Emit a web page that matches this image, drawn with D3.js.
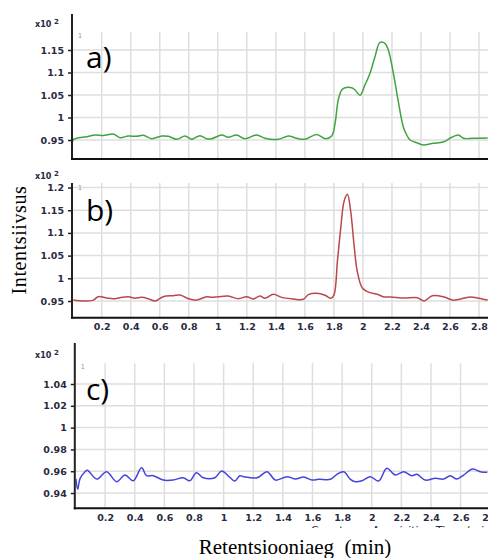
<!DOCTYPE html>
<html><head><meta charset="utf-8">
<script src="https://cdn.jsdelivr.net/npm/d3@7"></script>
<style>html,body{margin:0;padding:0;background:#fff}svg{display:block}</style>
</head><body>
<svg id="c" width="488" height="558"></svg>
<script>
// ---------- data ----------
const xA = [0.000,0.005,0.028,0.096,0.154,0.211,0.280,0.326,0.383,0.441,0.487,0.544,0.613,0.659,0.717,0.774,0.820,0.877,0.924,0.958,1.027,1.072,1.130,1.187,1.268,1.325,1.417,1.486,1.544,1.601,1.682,1.739,1.785,1.808,1.830,1.854,1.877,1.923,1.946,1.980,2.014,2.049,2.083,2.118,2.152,2.175,2.210,2.244,2.278,2.302,2.325,2.371,2.416,2.485,2.554,2.612,2.658,2.692,2.761,2.860];
const yA = [0.947,0.951,0.9538,0.9573,0.9611,0.960,0.9633,0.9551,0.9589,0.9582,0.9604,0.9529,0.9589,0.9582,0.9516,0.9589,0.9516,0.9596,0.9529,0.9529,0.9611,0.956,0.9611,0.9529,0.9611,0.9538,0.9516,0.9589,0.9538,0.9516,0.9622,0.9529,0.9589,0.987,1.0389,1.0611,1.0662,1.0662,1.0611,1.0493,1.0722,1.0982,1.1351,1.1669,1.1649,1.150,1.0982,1.0351,0.9796,0.9611,0.950,0.944,0.9389,0.9427,0.9456,0.956,0.9611,0.9538,0.9538,0.9544];

const xB = [0.004,0.073,0.142,0.176,0.234,0.280,0.326,0.383,0.429,0.476,0.521,0.567,0.624,0.693,0.740,0.797,0.855,0.923,0.958,1.003,1.072,1.141,1.199,1.245,1.291,1.325,1.383,1.440,1.509,1.589,1.624,1.682,1.739,1.780,1.801,1.824,1.847,1.870,1.893,1.916,1.939,1.961,1.996,2.042,2.099,2.145,2.192,2.283,2.375,2.421,2.478,2.559,2.616,2.674,2.743,2.788,2.860];
const yB = [0.952,0.950,0.952,0.9595,0.9566,0.955,0.9573,0.9595,0.956,0.958,0.955,0.950,0.9595,0.9617,0.9632,0.955,0.952,0.9595,0.958,0.9595,0.961,0.955,0.9595,0.9544,0.961,0.956,0.9648,0.958,0.955,0.9537,0.964,0.967,0.9625,0.956,0.9634,1.0366,1.110,1.1695,1.185,1.1467,1.073,1.0156,0.9785,0.969,0.9648,0.959,0.959,0.9566,0.9573,0.950,0.9617,0.9588,0.952,0.9544,0.959,0.9566,0.952];

const xC = [0.003,0.015,0.030,0.064,0.080,0.143,0.210,0.278,0.334,0.390,0.446,0.480,0.525,0.592,0.659,0.727,0.772,0.817,0.862,0.941,0.986,1.042,1.076,1.109,1.136,1.226,1.293,1.350,1.428,1.485,1.541,1.597,1.642,1.721,1.765,1.811,1.856,1.889,1.934,1.991,2.047,2.102,2.159,2.215,2.271,2.305,2.361,2.429,2.485,2.530,2.575,2.620,2.682,2.732,2.780];
const yC = [0.953,0.9434,0.953,0.9595,0.961,0.9528,0.9595,0.9504,0.9565,0.9513,0.9632,0.9559,0.9559,0.9519,0.9519,0.954,0.9513,0.9586,0.954,0.954,0.9602,0.9544,0.951,0.9559,0.955,0.954,0.9595,0.9519,0.955,0.9528,0.9547,0.9519,0.9526,0.9526,0.9572,0.9595,0.9526,0.9504,0.9513,0.955,0.951,0.9627,0.9565,0.9595,0.9559,0.9572,0.9519,0.9535,0.9528,0.9559,0.9528,0.9565,0.962,0.9595,0.959];

const yTicksA = [0.95,1,1.05,1.1,1.15];
const yTicksB = [0.95,1,1.05,1.1,1.15,1.2];
const yTicksC = [0.94,0.96,0.98,1,1.02,1.04];
const xTicksAB = [0.2,0.4,0.6,0.8,1,1.2,1.4,1.6,1.8,2,2.2,2.4,2.6,2.8];
const xTicksC = [0.2,0.4,0.6,0.8,1,1.2,1.4,1.6,1.8,2,2.2,2.4,2.6,2.8];
const panelLabels = ["a)","b)","c)"];

// ---------- layout ----------
const svg = d3.select("#c");
const fmt = d => String(+d.toFixed(2));
const panels = [
  {x:xA,y:yA,yt:yTicksA,xt:xTicksAB,col:"#3fa33f",label:panelLabels[0],
   left:72.7,right:488,top:32,bottom:159,axTop:14,xd:[0,2.862],yd:[0.9078,1.19],showX:false,
   x10y:27,oneY:38},
  {x:xB,y:yB,yt:yTicksB,xt:xTicksAB,col:"#b9484b",label:panelLabels[1],
   left:72.7,right:488,top:183,bottom:317.7,axTop:183,xd:[0,2.862],yd:[0.9132,1.21],showX:true,
   x10y:179,oneY:190},
  {x:xC,y:yC,yt:yTicksC,xt:xTicksC,col:"#4444dd",label:panelLabels[2],
   left:75.5,right:488,top:363.3,bottom:508.3,axTop:343,xd:[0,2.785],yd:[0.926,1.059],showX:true,
   x10y:358,oneY:369}
];
const labelY = [68, 221, 400];

panels.forEach((p,i) => {
  const x = d3.scaleLinear().domain(p.xd).range([p.left,p.right]);
  const y = d3.scaleLinear().domain(p.yd).range([p.bottom,p.top]);
  const g = svg.append("g");
  const cid = "clip"+i;
  svg.append("clipPath").attr("id",cid).append("rect")
    .attr("x",p.left).attr("y",p.top).attr("width",p.right-p.left).attr("height",p.bottom-p.top);

  // grid
  g.selectAll(".vg").data(p.xt.filter(t=>x(t)<=p.right)).enter().append("line")
    .attr("x1",d=>x(d)).attr("x2",d=>x(d)).attr("y1",p.top).attr("y2",p.bottom)
    .attr("stroke","#dedede").attr("stroke-width",1.5);
  g.selectAll(".hg").data(p.yt).enter().append("line")
    .attr("x1",p.left).attr("x2",p.right).attr("y1",d=>y(d)).attr("y2",d=>y(d))
    .attr("stroke","#dedede").attr("stroke-width",1.5);

  // trace
  const line = d3.line().x((d,j)=>x(p.x[j])).y((d,j)=>y(p.y[j])).curve(d3.curveCatmullRom.alpha(0.5));
  g.append("path").datum(p.y).attr("d",line).attr("fill","none")
    .attr("stroke",p.col).attr("stroke-width",1.5).attr("clip-path",`url(#${cid})`);

  // y axis
  const ya = d3.axisLeft(y).tickValues(p.yt).tickFormat(fmt).tickSize(4).tickSizeOuter(0).tickPadding(4);
  const yg = g.append("g").attr("transform",`translate(${p.left-0.7},0)`).call(ya);
  yg.select(".domain").remove();
  yg.selectAll(".tick line").attr("stroke","#222").attr("stroke-width",1.5);
  yg.selectAll("text").attr("font-family","DejaVu Sans").attr("font-size",9.5).attr("font-weight","bold").attr("fill","#2a2a40");
  g.append("line").attr("x1",p.left-0.7).attr("x2",p.left-0.7).attr("y1",p.axTop).attr("y2",p.bottom+1)
    .attr("stroke","#222").attr("stroke-width",2);

  // x axis line
  g.append("line").attr("x1",p.left-1.7).attr("x2",p.right).attr("y1",p.bottom).attr("y2",p.bottom)
    .attr("stroke","#111").attr("stroke-width",2);
  if (p.showX) {
    const xa = d3.axisBottom(x).tickValues(p.xt.filter(t=>x(t)<=p.right+8)).tickFormat(fmt).tickSize(0).tickPadding(6);
    const xg = g.append("g").attr("transform",`translate(0,${p.bottom})`).call(xa);
    xg.select(".domain").remove();
    xg.selectAll("text").attr("font-family","DejaVu Sans").attr("font-size",9.5).attr("font-weight","bold").attr("fill","#2a2a40");
  }

  // x10^2
  const t = g.append("text").attr("x",35).attr("y",p.x10y).attr("font-family","DejaVu Sans")
    .attr("font-size",8).attr("font-weight","bold").attr("fill","#2a2a40");
  t.append("tspan").text("x10 ");
  t.append("tspan").attr("dy",-3).attr("font-size",7).text("2");
  g.append("text").attr("x",p.left+5).attr("y",p.oneY).attr("font-family","DejaVu Sans")
    .attr("font-size",7).attr("fill","#999").text("1");

  // panel label
  g.append("text").attr("x",86).attr("y",labelY[i]).attr("font-family","Open Sans")
    .attr("font-size",30).attr("fill","#000").text(p.label);
});

// default axis title, mostly hidden behind the overlay as in the reference
svg.append("clipPath").attr("id","clipT").append("rect").attr("x",0).attr("y",0).attr("width",488).attr("height",528);
svg.append("text").attr("x",311).attr("y",534).attr("font-family","DejaVu Sans").attr("font-size",11)
  .attr("fill","#2a2a40").attr("clip-path","url(#clipT)").text("Counts vs. Acquisition Time (min)");

// axis titles
svg.append("text").attr("transform","translate(25.5,240) rotate(-90)").attr("text-anchor","middle")
  .attr("font-family","Liberation Serif").attr("font-size",20).attr("letter-spacing",0.6).attr("fill","#000").text("Intentsiivsus");
svg.append("text").attr("x",295).attr("y",554).attr("text-anchor","middle").attr("xml:space","preserve")
  .style("white-space","pre").attr("font-family","Liberation Serif").attr("font-size",21).attr("fill","#000")
  .text("Retentsiooniaeg  (min)");
</script>
</body></html>
